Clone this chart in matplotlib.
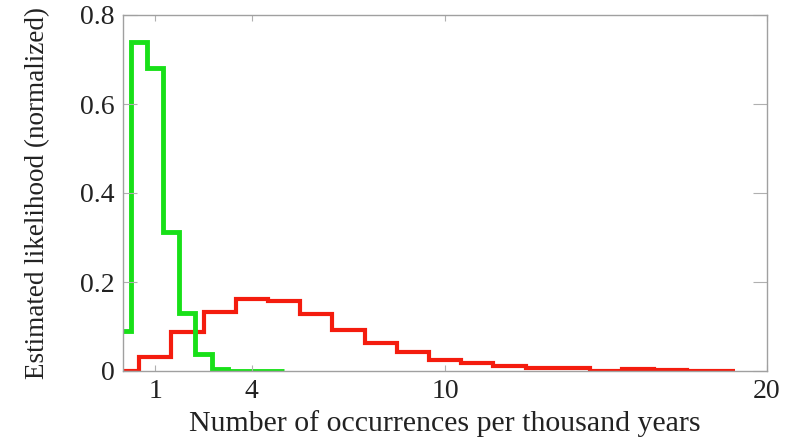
import matplotlib
matplotlib.use("Agg")
import matplotlib.pyplot as plt
import numpy as np

# Green histogram (bin edges and heights)
green_edges = [0, 0.25, 0.75, 1.25, 1.75, 2.25, 2.75, 3.25, 3.75, 4.25, 4.75, 5.0]
green_values = [0.09, 0.74, 0.68, 0.313, 0.13, 0.038, 0.004, 0.0, 0.0, 0.0, 0.0]

# Red histogram (bin edges and heights)
red_edges = [0, 0.5, 1.5, 2.5, 3.5, 4.5, 5.5, 6.5, 7.5, 8.5, 9.5, 10.5,
             11.5, 12.5, 13.5, 14.5, 15.5, 16.5, 17.5, 18.5, 19.0]
red_values = [0.0, 0.032, 0.087, 0.132, 0.161, 0.157, 0.127, 0.092, 0.064,
              0.043, 0.025, 0.017, 0.011, 0.007, 0.007, 0.001, 0.004, 0.002,
              0.0, 0.0]

x_ticks = [1, 4, 10, 20]
y_ticks = [0, 0.2, 0.4, 0.6, 0.8]
y_tick_labels = ["0", "0.2", "0.4", "0.6", "0.8"]

plt.rcParams['font.family'] = ['Liberation Serif', 'DejaVu Serif']

fig = plt.figure(figsize=(7.92, 4.41), dpi=100)
ax = fig.add_axes([123/792, 1-371/441, (767-123)/792, (371-15)/441])

ax.stairs(red_values, red_edges, color='#f41c0e', linewidth=3.0, baseline=None)
ax.stairs(green_values, green_edges, color='#18e018', linewidth=3.5, baseline=None)

ax.set_xlim(0, 20)
ax.set_ylim(0, 0.8)
ax.set_xticks(x_ticks)
ax.set_xticklabels([str(t) for t in x_ticks])
ax.set_yticks(y_ticks)
ax.set_yticklabels(y_tick_labels)

for s in ax.spines.values():
    s.set_color('#a0a0a0')
    s.set_linewidth(1.0)

ax.tick_params(axis='y', direction='in', length=10, width=0.8, color='#b0b0b0',
               left=True, right=True, labelsize=20, pad=6, labelcolor='#222222')
ax.tick_params(axis='x', direction='in', length=4, width=0.8, color='#b0b0b0',
               bottom=True, top=True, labelsize=20, pad=6, labelcolor='#222222')

ax.set_xlabel("Number of occurrences per thousand years", fontsize=21.5, color='#222222')
ax.set_ylabel("Estimated likelihood (normalized)", fontsize=19.5, color='#222222')
ax.xaxis.set_label_coords(0.5, -0.11)
ax.yaxis.set_label_coords(-0.113, 0.5)

fig.savefig("out.png", dpi=100)
